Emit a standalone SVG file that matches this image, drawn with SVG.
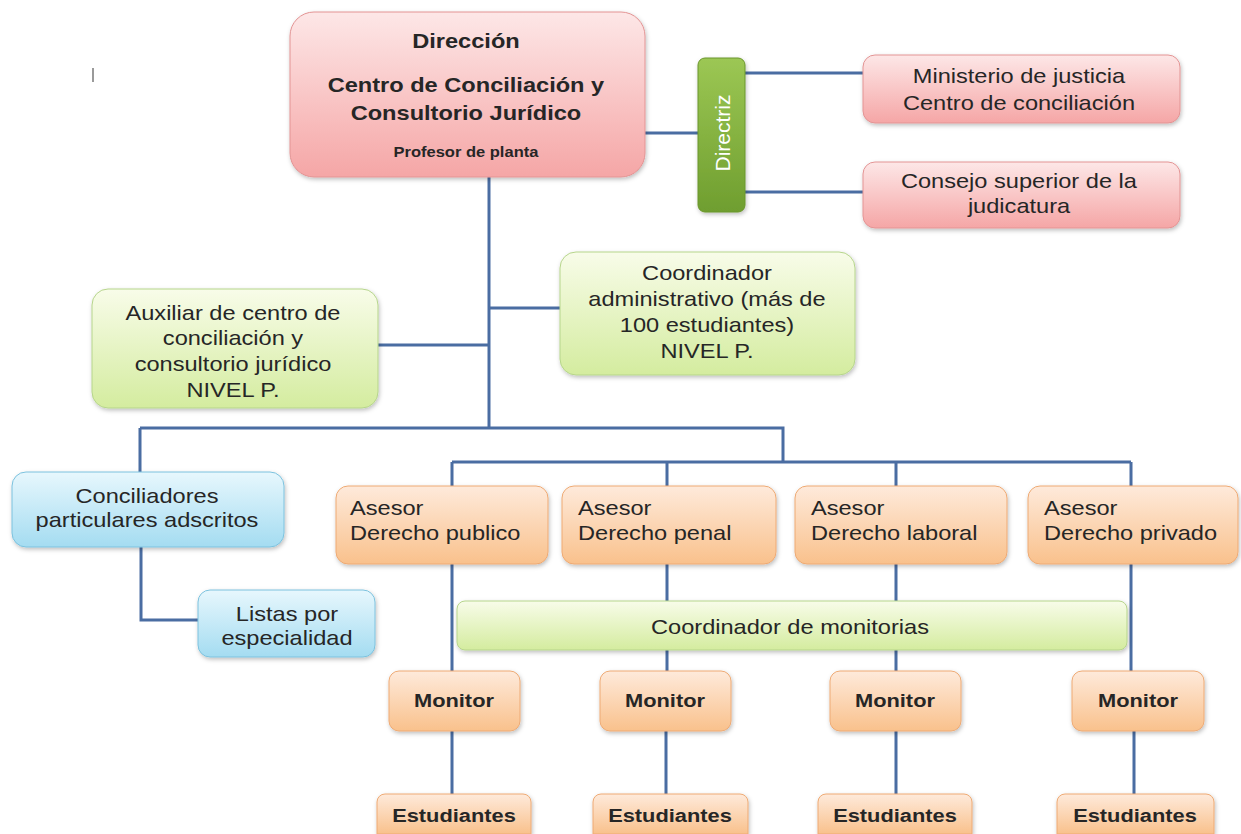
<svg xmlns="http://www.w3.org/2000/svg" width="1241" height="834" viewBox="0 0 1241 834">
<defs>
<linearGradient id="gPink" x1="0" y1="0" x2="0" y2="1"><stop offset="0" stop-color="#fde7e7"/><stop offset="1" stop-color="#f5a6a6"/></linearGradient>
<linearGradient id="gGreen" x1="0" y1="0" x2="0" y2="1"><stop offset="0" stop-color="#f8fce9"/><stop offset="1" stop-color="#d4ec9f"/></linearGradient>
<linearGradient id="gBlue" x1="0" y1="0" x2="0" y2="1"><stop offset="0" stop-color="#e7f7fd"/><stop offset="1" stop-color="#a4dcf1"/></linearGradient>
<linearGradient id="gOrange" x1="0" y1="0" x2="0" y2="1"><stop offset="0" stop-color="#feeadb"/><stop offset="1" stop-color="#f9c18c"/></linearGradient>
<linearGradient id="gDir" x1="0" y1="0" x2="0" y2="1"><stop offset="0" stop-color="#9cc754"/><stop offset="1" stop-color="#6f9e2f"/></linearGradient>
<filter id="sh" x="-10%" y="-10%" width="130%" height="140%"><feDropShadow dx="1" dy="2" stdDeviation="2" flood-color="#000" flood-opacity="0.25"/></filter>
</defs>
<style>
.pink{fill:url(#gPink);stroke:#e39494;stroke-width:1;filter:url(#sh)}
.green{fill:url(#gGreen);stroke:#b6d58b;stroke-width:1;filter:url(#sh)}
.blue{fill:url(#gBlue);stroke:#7cc2de;stroke-width:1;filter:url(#sh)}
.orange{fill:url(#gOrange);stroke:#eeaa74;stroke-width:1;filter:url(#sh)}
.dir{fill:url(#gDir);stroke:#6a962c;stroke-width:1;filter:url(#sh)}
.c{fill:none;stroke:#4a6da2;stroke-width:3}
text{font-family:"Liberation Sans",Arial,sans-serif;fill:#262626;font-size:20px}
.m{text-anchor:middle;transform-box:fill-box;transform-origin:center;transform:scaleX(1.18)}
.l{text-anchor:start;transform-box:fill-box;transform-origin:left center;transform:scaleX(1.18)}
.b{font-weight:bold}
</style>
<rect x="92" y="68" width="2" height="14" fill="#9a9a9a"/>
<g id="connectors">
<path class="c" d="M645 133H698"/>
<path class="c" d="M745 73H863M745 192H863"/>
<path class="c" d="M489 177V428"/>
<path class="c" d="M378 345H489M489 308H560"/>
<path class="c" d="M140 428H783V462"/>
<path class="c" d="M140 428V472M141 547V620H198"/>
<path class="c" d="M452 462H1131"/>
<path class="c" d="M452 462V486M667 462V486M896 462V486M1131 462V486"/>
<path class="c" d="M452 564V671M667 564V601M896 564V601M1131 564V671"/>
<path class="c" d="M667 650V671M896 650V671"/>
<path class="c" d="M452 731V794M666 731V794M896 731V794M1134 731V794"/>
</g>
<g id="direccion">
<rect class="pink" x="290" y="12" width="355" height="165" rx="24"/>
<text class="m b" x="466" y="48">Dirección</text>
<text class="m b" x="466" y="92">Centro de Conciliación y</text>
<text class="m b" x="466" y="120">Consultorio Jurídico</text>
<text class="m b" x="466" y="157" style="font-size:14px">Profesor de planta</text>
</g>
<g id="directriz">
<rect class="dir" x="698" y="58" width="47" height="154" rx="7"/>
<text transform="translate(722 133) rotate(-90)" text-anchor="middle" dominant-baseline="central" style="fill:#ffffff;font-size:21px">Directriz</text>
</g>
<g id="ministerio">
<rect class="pink" x="863" y="55" width="317" height="68" rx="12"/>
<text class="m" x="1019" y="83">Ministerio de justicia</text>
<text class="m" x="1019" y="110">Centro de conciliación</text>
</g>
<g id="consejo">
<rect class="pink" x="863" y="162" width="317" height="66" rx="12"/>
<text class="m" x="1019" y="188">Consejo superior de la</text>
<text class="m" x="1019" y="213">judicatura</text>
</g>
<g id="auxiliar">
<rect class="green" x="92" y="289" width="286" height="119" rx="16"/>
<text class="m" x="233" y="320">Auxiliar de centro de</text>
<text class="m" x="233" y="345">conciliación y</text>
<text class="m" x="233" y="371">consultorio jurídico</text>
<text class="m" x="233" y="397">NIVEL P.</text>
</g>
<g id="coordinador-admin">
<rect class="green" x="560" y="252" width="295" height="123" rx="16"/>
<text class="m" x="707" y="280">Coordinador</text>
<text class="m" x="707" y="306">administrativo (más de</text>
<text class="m" x="707" y="332">100 estudiantes)</text>
<text class="m" x="707" y="358">NIVEL P.</text>
</g>
<g id="conciliadores">
<rect class="blue" x="12" y="472" width="272" height="75" rx="14"/>
<text class="m" x="147" y="503">Conciliadores</text>
<text class="m" x="147" y="527">particulares adscritos</text>
</g>
<g id="listas">
<rect class="blue" x="198" y="590" width="177" height="67" rx="12"/>
<text class="m" x="287" y="621">Listas por</text>
<text class="m" x="287" y="645">especialidad</text>
</g>
<g id="asesor-publico">
<rect class="orange" x="336" y="486" width="212" height="78" rx="12"/>
<text class="l" x="350" y="515">Asesor</text>
<text class="l" x="350" y="540">Derecho publico</text>
</g>
<g id="asesor-penal">
<rect class="orange" x="562" y="486" width="214" height="78" rx="12"/>
<text class="l" x="578" y="515">Asesor</text>
<text class="l" x="578" y="540">Derecho penal</text>
</g>
<g id="asesor-laboral">
<rect class="orange" x="795" y="486" width="212" height="78" rx="12"/>
<text class="l" x="811" y="515">Asesor</text>
<text class="l" x="811" y="540">Derecho laboral</text>
</g>
<g id="asesor-privado">
<rect class="orange" x="1028" y="486" width="210" height="78" rx="12"/>
<text class="l" x="1044" y="515">Asesor</text>
<text class="l" x="1044" y="540">Derecho privado</text>
</g>
<g id="coordinador-monitorias">
<rect class="green" x="457" y="601" width="670" height="49" rx="8"/>
<text class="m" x="790" y="634">Coordinador de monitorias</text>
</g>
<g id="monitor-1">
<rect class="orange" x="389" y="671" width="131" height="60" rx="10"/>
<text class="m b" x="454" y="707" style="font-size:18.5px">Monitor</text>
</g>
<g id="monitor-2">
<rect class="orange" x="600" y="671" width="131" height="60" rx="10"/>
<text class="m b" x="665" y="707" style="font-size:18.5px">Monitor</text>
</g>
<g id="monitor-3">
<rect class="orange" x="830" y="671" width="131" height="60" rx="10"/>
<text class="m b" x="895" y="707" style="font-size:18.5px">Monitor</text>
</g>
<g id="monitor-4">
<rect class="orange" x="1072" y="671" width="132" height="60" rx="10"/>
<text class="m b" x="1138" y="707" style="font-size:18.5px">Monitor</text>
</g>
<g id="estudiantes-1">
<path class="orange" d="M377 834V802a8 8 0 0 1 8-8H523a8 8 0 0 1 8 8V834Z"/>
<text class="m b" x="454" y="822" style="font-size:18.5px">Estudiantes</text>
</g>
<g id="estudiantes-2">
<path class="orange" d="M593 834V802a8 8 0 0 1 8-8H740a8 8 0 0 1 8 8V834Z"/>
<text class="m b" x="670" y="822" style="font-size:18.5px">Estudiantes</text>
</g>
<g id="estudiantes-3">
<path class="orange" d="M818 834V802a8 8 0 0 1 8-8H964a8 8 0 0 1 8 8V834Z"/>
<text class="m b" x="895" y="822" style="font-size:18.5px">Estudiantes</text>
</g>
<g id="estudiantes-4">
<path class="orange" d="M1057 834V802a8 8 0 0 1 8-8H1206a8 8 0 0 1 8 8V834Z"/>
<text class="m b" x="1135" y="822" style="font-size:18.5px">Estudiantes</text>
</g>
</svg>
